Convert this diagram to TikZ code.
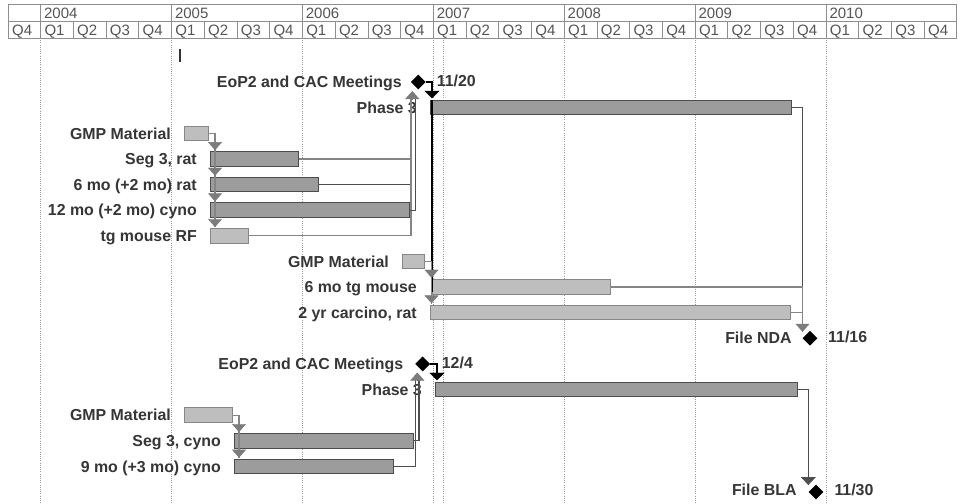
\documentclass[tikz,border=0pt]{standalone}
\usepackage{fontspec}
\setmainfont{Liberation Sans}
\usetikzlibrary{arrows.meta,shapes.geometric,calc}
\definecolor{hdrline}{HTML}{8E8E8E}
\definecolor{hdrtext}{HTML}{555555}
\definecolor{lbltext}{HTML}{363636}
\definecolor{gridc}{HTML}{9A9A9A}
\definecolor{dfill}{HTML}{9C9C9C}
\definecolor{ddraw}{HTML}{4C4C4C}
\definecolor{lfill}{HTML}{BEBEBE}
\definecolor{ldraw}{HTML}{878787}
\definecolor{glinkc}{HTML}{858585}
\definecolor{dlinkc}{HTML}{4E4E4E}
\definecolor{garrc}{HTML}{7C7C7C}
\tikzset{
  hdr/.style={draw=hdrline, line width=0.9pt},
  hdrtxt/.style={font=\fontsize{15}{17}\selectfont, text=hdrtext, inner sep=0pt, anchor=base west},
  gridl/.style={draw=gridc, line width=0.8pt, dash pattern=on 1pt off 1.2pt},
  dbar/.style={draw=ddraw, fill=dfill, line width=1pt, minimum height=14.5pt, inner sep=0pt, anchor=west},
  lbar/.style={draw=ldraw, fill=lfill, line width=1pt, minimum height=14.5pt, inner sep=0pt, anchor=west},
  ms/.style={diamond, fill=black, minimum width=15pt, minimum height=15pt, inner sep=0pt},
  lbl/.style={font=\bfseries\fontsize{15.9}{18}\selectfont, text=lbltext, inner sep=0pt, text height=11.4pt, text depth=0pt, anchor=east},
  dlbl/.style={font=\bfseries\fontsize{15.9}{18}\selectfont, text=lbltext, inner sep=0pt, text height=11.4pt, text depth=0pt, anchor=west},
  glink/.style={draw=glinkc, line width=1.2pt},
  dlink/.style={draw=dlinkc, line width=1.2pt},
  blink/.style={draw=black, line width=1.6pt},
  garr/.style={-{Triangle[width=14pt,length=8pt]}, garrc},
  barr/.style={-{Triangle[width=15pt,length=7.5pt]}, black},
  darr/.style={-{Triangle[width=15pt,length=8pt]}, dlinkc},
}
\begin{document}
\begin{tikzpicture}[x=1pt,y=-1pt]
\useasboundingbox (0,0) rectangle (960,503);
\fill[white] (0,0) rectangle (960,503);

% ---------- timescale header ----------
\draw[hdr] (8,4) rectangle (956,38);
\draw[hdr] (8,21) -- (956,21);
\foreach \q in {0,...,27} \draw[hdr] ({40.7+32.725*\q},21) -- ({40.7+32.725*\q},38);
\foreach \i in {0,...,6} \draw[hdr] ({40.7+130.9*\i},4) -- ({40.7+130.9*\i},38);
\foreach \i/\yr in {0/2004,1/2005,2/2006,3/2007,4/2008,5/2009,6/2010}
  \node[hdrtxt] (yr\yr) at ({40.7+130.9*\i+3.2},19) {\yr};
\node[hdrtxt] (q03) at (12,35.3) {Q4};
\foreach \i in {0,...,27}{
  \pgfmathtruncatemacro\qn{mod(\i,4)+1}
  \node[hdrtxt] (q\i) at ({40.7+32.725*\i+3.6},35.3) {Q\qn};
}

% ---------- grid lines ----------
\foreach \i in {0,...,6} \draw[gridl] ({40.7+130.9*\i},38) -- ({40.7+130.9*\i},503);
\draw[gridl] (443,38) -- (443,503);

% marker
\draw[draw=black!80, line width=1.3pt] (180,49) -- (180,62);

% ---------- section 1 ----------
\node[ms] (eopa) at (418.3,82) {};
\node[lbl] (leopa) at ($(eopa.center)+(-16.5,0)$) {EoP2 and CAC Meetings};
\node[dlbl] (deopa) at ($(eopa.center)+(18.4,-1)$) {11/20};

\node[dbar, minimum width=360.5pt] (ph3a) at (430,107.6) {};
\node[lbl] (lph3a) at ($(ph3a.west)+(-13,0)$) {Phase 3};

\node[lbar, minimum width=24pt] (gmpa) at (184,133.3) {};
\node[lbl] (lgmpa) at ($(gmpa.west)+(-13,0)$) {GMP Material};

\node[dbar, minimum width=88pt] (seg3r) at (210,158.9) {};
\node[lbl] (lseg3r) at ($(seg3r.west)+(-13,0)$) {Seg 3, rat};

\node[dbar, minimum width=108pt] (mo6r) at (210,184.5) {};
\node[lbl] (lmo6r) at ($(mo6r.west)+(-13,0)$) {6 mo (+2 mo) rat};

\node[dbar, minimum width=198.5pt] (mo12c) at (210,210.1) {};
\node[lbl] (lmo12c) at ($(mo12c.west)+(-13,0)$) {12 mo (+2 mo) cyno};

\node[lbar, minimum width=38pt] (tgrf) at (210,235.8) {};
\node[lbl] (ltgrf) at ($(tgrf.west)+(-13,0)$) {tg mouse RF};

\node[lbar, minimum width=22pt] (gmpb) at (402,261.4) {};
\node[lbl] (lgmpb) at ($(gmpb.west)+(-13,0)$) {GMP Material};

\node[lbar, minimum width=178pt] (tg6) at (432,287) {};
\node[lbl] (ltg6) at ($(tg6.west)+(-15,0)$) {6 mo tg mouse};

\node[lbar, minimum width=360pt] (carc) at (430,312.6) {};
\node[lbl] (lcarc) at ($(carc.west)+(-13,0)$) {2 yr carcino, rat};

\node[ms] (nda) at (810,338.3) {};
\node[lbl] (lnda) at ($(nda.center)+(-18.3,-1)$) {File NDA};
\node[dlbl] (dnda) at ($(nda.center)+(18,-2)$) {11/16};

% connectors section 1
\draw[glink] (gmpa.east) -| ($(seg3r.north west)+(5,-1)$);
\draw[glink] ($(seg3r.north west)+(5,-1)$) -- ($(tgrf.north west)+(5,-1)$);
\draw[garr] ($(seg3r.north west)+(5,-9)$) -- ($(seg3r.north west)+(5,-1)$);
\draw[garr] ($(mo6r.north west)+(5,-9)$) -- ($(mo6r.north west)+(5,-1)$);
\draw[garr] ($(mo12c.north west)+(5,-9)$) -- ($(mo12c.north west)+(5,-1)$);
\draw[garr] ($(tgrf.north west)+(5,-9)$) -- ($(tgrf.north west)+(5,-1)$);

\coordinate (jA1) at (411,98);
\coordinate (jA2) at (415.5,98);
\draw[glink] (seg3r.east) -| (jA1);
\draw[dlink] (mo6r.east) -| (jA1);
\draw[glink] (tgrf.east) -| (jA1);
\draw[dlink] (mo12c.east) -| (jA2);
\draw[garr] (412.3,99) -- (412.3,91);

\draw[blink] ($(ph3a.north west)+(2,0)$) -- ($(tg6.west)+(0,5)$);
\draw[blink] (eopa.east) -| ($(ph3a.north west)+(2,-7)$);
\draw[barr] ($(ph3a.north west)+(2,-10)$) -- ($(ph3a.north west)+(2,-1.5)$);

\draw[glink] (gmpb.east) -| ($(carc.north west)+(1.5,-1)$);
\draw[garr] ($(tg6.north west)+(-0.5,-9)$) -- ($(tg6.north west)+(-0.5,-1.5)$);
\draw[garr] ($(carc.north west)+(1.5,-9)$) -- ($(carc.north west)+(1.5,-1.5)$);

\coordinate (ndatip) at ($(nda.center)+(-7.5,-6.5)$);
\draw[dlink] (ph3a.east) -| (ndatip);
\draw[glink] (tg6.east) -| (ndatip);
\draw[glink] (carc.east) -| (ndatip);
\draw[garr] ($(ndatip)+(0,-9)$) -- (ndatip);

% ---------- section 2 ----------
\node[ms] (eopb) at (422.7,363.9) {};
\node[lbl] (leopb) at ($(eopb.center)+(-19.4,0)$) {EoP2 and CAC Meetings};
\node[dlbl] (deopb) at ($(eopb.center)+(19,-1)$) {12/4};

\node[dbar, minimum width=362pt] (ph3b) at (435,389.5) {};
\node[lbl] (lph3b) at ($(ph3b.west)+(-13,0)$) {Phase 3};

\node[lbar, minimum width=48pt] (gmpc) at (184,415.1) {};
\node[lbl] (lgmpc) at ($(gmpc.west)+(-13,0)$) {GMP Material};

\node[dbar, minimum width=179pt] (seg3c) at (234,440.8) {};
\node[lbl] (lseg3c) at ($(seg3c.west)+(-13,0)$) {Seg 3, cyno};

\node[dbar, minimum width=159pt] (mo9c) at (234,466.4) {};
\node[lbl] (lmo9c) at ($(mo9c.west)+(-13,0)$) {9 mo (+3 mo) cyno};

\node[ms] (bla) at (816,492) {};
\node[lbl] (lbla) at ($(bla.center)+(-19.3,-2.5)$) {File BLA};
\node[dlbl] (dbla) at ($(bla.center)+(18.3,-2.5)$) {11/30};

% connectors section 2
\draw[glink] (gmpc.east) -| ($(mo9c.north west)+(5,-1)$);
\draw[garr] ($(seg3c.north west)+(5,-9)$) -- ($(seg3c.north west)+(5,-1)$);
\draw[garr] ($(mo9c.north west)+(5,-9)$) -- ($(mo9c.north west)+(5,-1)$);

\coordinate (jB1) at (419,380);
\coordinate (jB2) at (415.5,380);
\draw[dlink] (seg3c.east) -| (jB1);
\draw[dlink] (mo9c.east) -| (jB2);
\draw[garr] (417.3,381) -- (417.3,372.5);

\draw[blink] (eopb.east) -| ($(ph3b.north west)+(2,-7)$);
\draw[barr] ($(ph3b.north west)+(2,-10)$) -- ($(ph3b.north west)+(2,-1.5)$);

\coordinate (blatip) at ($(bla.center)+(-7.7,-7)$);
\draw[dlink] (ph3b.east) -| (blatip);
\draw[darr] ($(blatip)+(0,-9)$) -- (blatip);
\end{tikzpicture}
\end{document}
